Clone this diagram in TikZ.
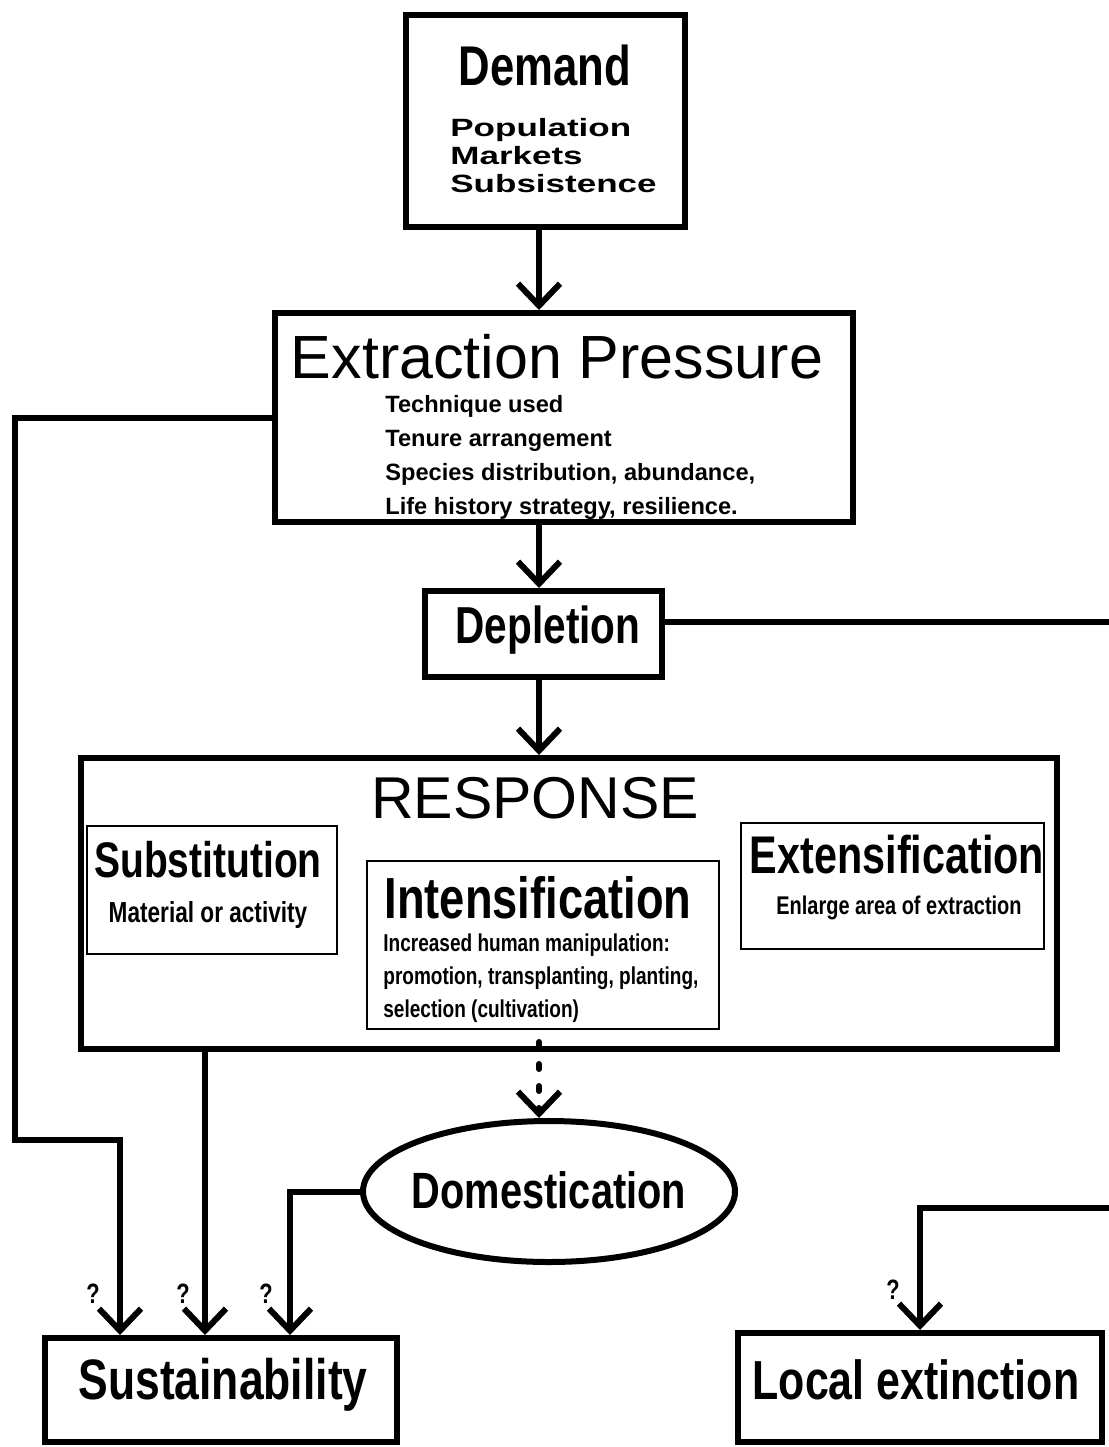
\documentclass[tikz,border=0pt]{standalone}
\usepackage{fontspec}
\setmainfont{Liberation Sans}
\newfontfamily\narrowsf[FakeStretch=0.78]{Liberation Sans}
\newfontfamily\widesf[FakeStretch=1.4]{Liberation Sans}
\usepackage{tikz}
\usetikzlibrary{arrows.meta,shapes.geometric}
\tikzset{
    mybox/.style={rectangle, draw=black, line width=3pt, inner sep=0pt},
    subbox/.style={rectangle, draw=black, line width=1pt, inner sep=0pt},
    myoval/.style={ellipse, draw=black, line width=3pt, inner sep=0pt, minimum width=186pt, minimum height=70.5pt},
    myline/.style={line width=3pt},
    myarrow/.style={-{Straight Barb[length=11pt,width=21pt]}, line width=3pt},
    dotarrow/.style={-{Straight Barb[length=11pt,width=21pt]}, line width=3pt, line cap=round, dash pattern=on 2.5pt off 8.5pt},
    bigtitle/.style={inner sep=0pt, font=\narrowsf\bfseries\fontsize{28}{30}\selectfont},
    smalltext/.style={inner sep=0pt, align=left, font=\bfseries\fontsize{11.8}{17}\selectfont},
    narrowtext/.style={inner sep=0pt, align=left, font=\narrowsf\bfseries\fontsize{12.2}{16.5}\selectfont},
    qmark/.style={inner sep=0pt, font=\narrowsf\bfseries\fontsize{14}{15}\selectfont}
}
\begin{document}
\begin{tikzpicture}[x=0.5pt,y=-0.5pt]
    \useasboundingbox (0,0) rectangle (1109,1447);
    \coordinate (spine) at (539,0);
    \coordinate (railL) at (15,1140);
    \coordinate (dropA) at (120,1140);
    \coordinate (dropB) at (205,0);
    \coordinate (dropC) at (290,0);
    \coordinate (offR) at (1135,1208);

    \draw (545.5,121) node[mybox, minimum width=139.5pt, minimum height=106pt] (demand) {};
    \draw (545,65) node[bigtitle] (demandtitle) {Demand};
    \draw (450,156) node[inner sep=0pt, align=left, font=\widesf\bfseries\fontsize{12.5}{14}\selectfont, anchor=west] (demanditems) {Population\\Markets\\Subsistence};

    \draw (564,417.5) node[mybox, minimum width=289pt, minimum height=104.5pt] (extract) {};
    \draw (557,357) node[inner sep=0pt, font=\fontsize{30.5}{32}\selectfont] (extracttitle) {Extraction Pressure};
    \draw (385,457) node[smalltext, anchor=west] (extractitems) {Technique used\\Tenure arrangement\\Species distribution, abundance,\\Life history strategy, resilience.};

    \draw (543.5,634) node[mybox, minimum width=118.5pt, minimum height=43pt] (deplete) {};
    \draw (548,630) node[bigtitle, font=\narrowsf\bfseries\fontsize{26}{28}\selectfont] (depletetitle) {Depletion};

    \draw (569,903.5) node[mybox, minimum width=488pt, minimum height=145.5pt] (response) {};
    \draw (535,798) node[inner sep=0pt, font=\fontsize{29.5}{31}\selectfont] (responsetitle) {RESPONSE};

    \draw (212,890) node[subbox, minimum width=125pt, minimum height=64pt] (subst) {};
    \draw (208,860) node[bigtitle, font=\narrowsf\bfseries\fontsize{25}{27}\selectfont] (substtitle) {Substitution};
    \draw (208,915) node[inner sep=0pt, font=\narrowsf\bfseries\fontsize{14.5}{17}\selectfont] (substtext) {Material or activity};

    \draw (543,945) node[subbox, minimum width=176pt, minimum height=84pt] (intens) {};
    \draw (538,898) node[bigtitle, font=\narrowsf\bfseries\fontsize{29}{31}\selectfont] (intenstitle) {Intensification};
    \draw (383,978) node[narrowtext, anchor=west] (intenstext) {Increased human manipulation:\\promotion, transplanting, planting,\\selection (cultivation)};

    \draw (892.5,886) node[subbox, minimum width=151.5pt, minimum height=63pt] (extens) {};
    \draw (897,855) node[bigtitle, font=\narrowsf\bfseries\fontsize{26.5}{28}\selectfont] (extenstitle) {Extensification};
    \draw (899,908) node[inner sep=0pt, font=\narrowsf\bfseries\fontsize{12.8}{15}\selectfont] (extenstext) {Enlarge area of extraction};

    \draw (549,1191.5) node[myoval] (domest) {};
    \draw (549,1190) node[bigtitle, font=\narrowsf\bfseries\fontsize{25.5}{27}\selectfont] (domesttitle) {Domestication};

    \draw (221,1390) node[mybox, minimum width=176pt, minimum height=52pt] (sustain) {};
    \draw (223,1385) node[bigtitle, font=\narrowsf\bfseries\fontsize{28.5}{30}\selectfont] (sustaintitle) {Sustainability};

    \draw (920,1387.5) node[mybox, minimum width=182pt, minimum height=54.5pt] (local) {};
    \draw (916,1380) node[bigtitle, font=\narrowsf\bfseries\fontsize{27.5}{29}\selectfont] (localtitle) {Local extinction};

    \draw (93,1294) node[qmark] (qa) {?};
    \draw (183,1294) node[qmark] (qb) {?};
    \draw (266,1294) node[qmark] (qc) {?};
    \draw (893,1290) node[qmark] (qd) {?};

    \draw[myarrow] (demand.south -| spine) -- (extract.north -| spine);
    \draw[myarrow] (extract.south -| spine) -- (deplete.north -| spine);
    \draw[myarrow] (deplete.south -| spine) -- (response.north -| spine);
    \draw[dotarrow] ([yshift=-6pt]intens.south -| spine) -- (domest.north -| spine);
    \draw[myarrow] (extract.west) -| (railL) -- (dropA) -- (dropA |- sustain.north);
    \draw[myarrow] (response.south -| dropB) -- (sustain.north -| dropB);
    \draw[myarrow] (domest.west) -| (sustain.north -| dropC);
    \draw[myarrow] ([yshift=6pt]deplete.east) -| (offR) -| (local.north);
\end{tikzpicture}
\end{document}
